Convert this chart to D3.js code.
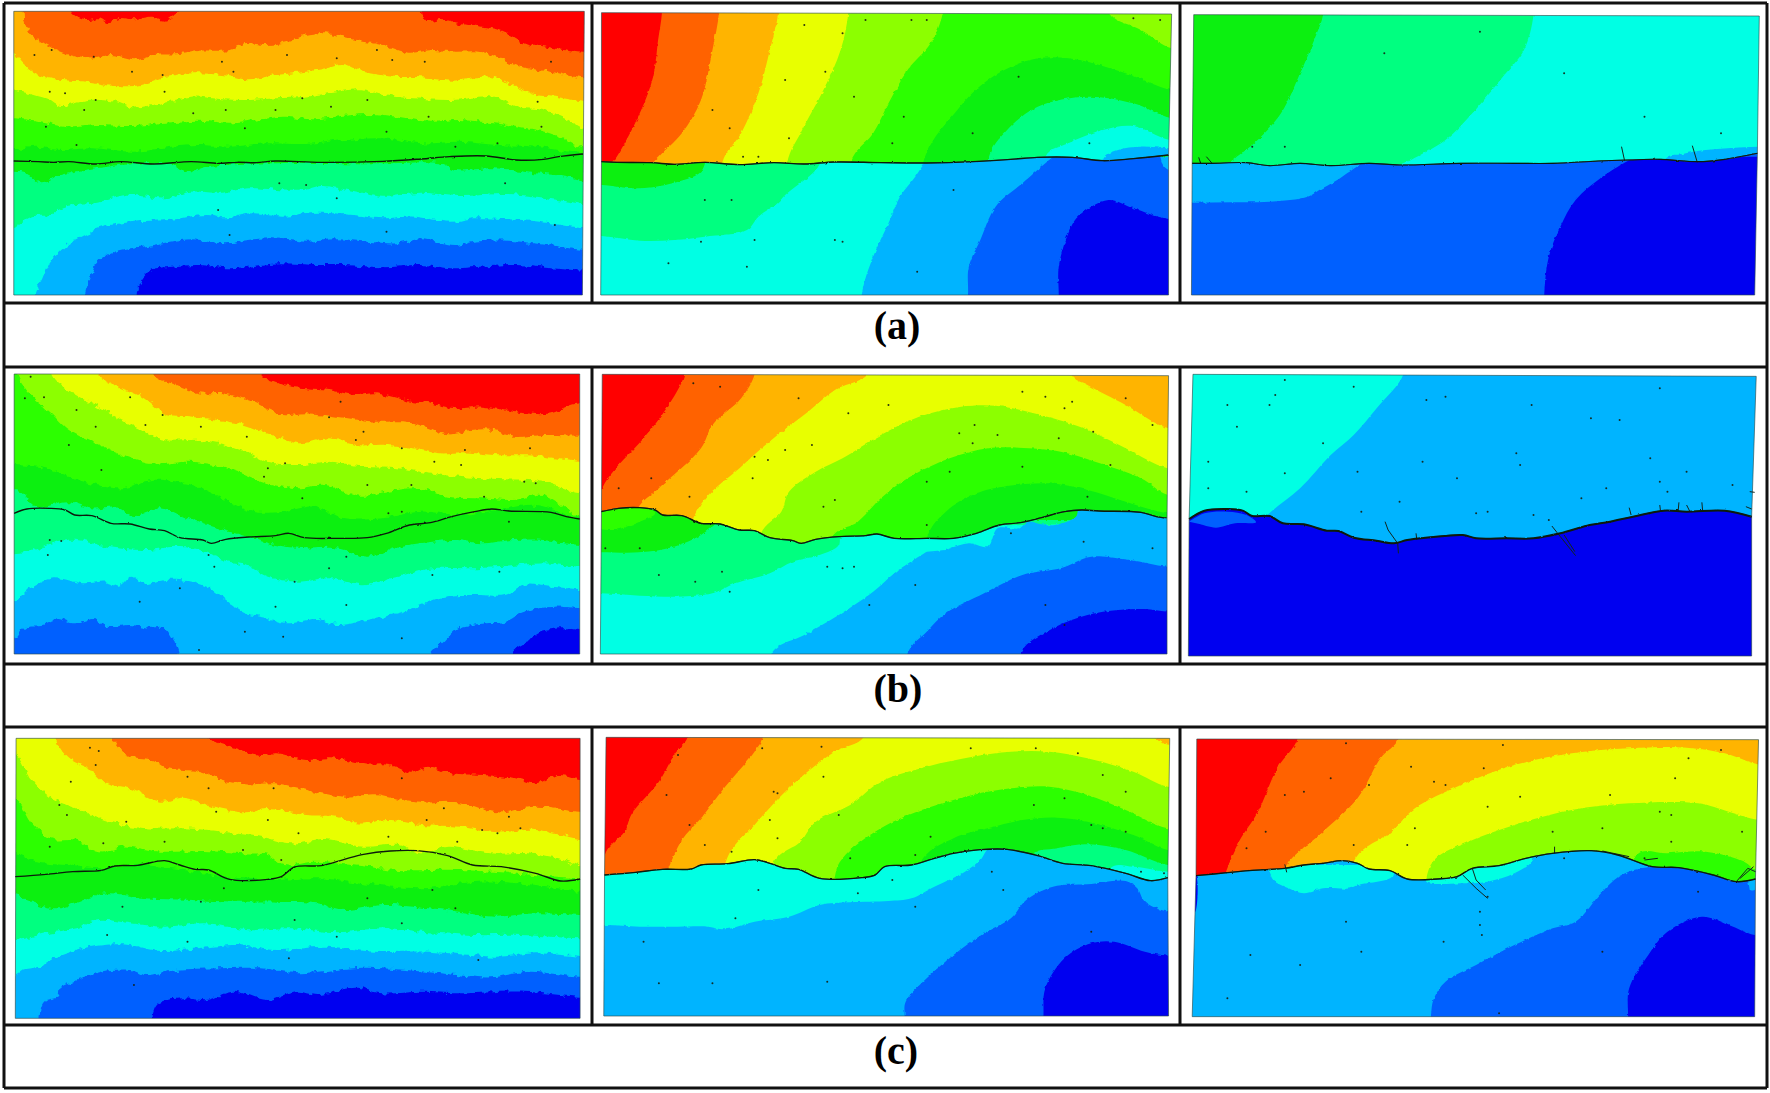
<!DOCTYPE html>
<html><head><meta charset="utf-8">
<script src="https://cdnjs.cloudflare.com/ajax/libs/d3/7.8.5/d3.min.js"></script>
<style>html,body{margin:0;padding:0;background:#fff}svg{display:block}</style>
</head><body><svg id="c" width="1770" height="1093"></svg>
<script>
const palette=['#ff0000','#ff6200','#ffb400','#e8ff00','#8cff00','#2cff00','#0cf010','#00ff80','#00ffe4','#00b4ff','#0060ff','#0000f0'];
const captions=['(a)','(b)','(c)'];

// closures: the helper only extends a read boundary beyond the clip.
const L=-50,R=1620,T=-50,B=1160;
const flat=a=>d3.range(0,a.length,2).map(i=>[a[i],a[i+1]]);
const down=(c,a)=>[c,[L,a[1],...a,R,a[a.length-1],R,B,L,B]];
const fromTop=(c,a)=>[c,[L,T,a[0],T,...a,R,a[a.length-1],R,B,L,B]];
const arc=(c,a)=>[c,[a[0],B,...a,R,a[a.length-1],R,B]];
const right=(c,a)=>[c,[a[0],T,...a,a[a.length-2],B,R,B,R,T]];
const poly=(c,a)=>[c,a];

// ---------- a1
const a1Shape=[36,34,1527,34,1522,885,36,885];
const a1Crack=[36,483,100,485,140,487,180,485,250,492,315,485,400,492,500,485,570,490,620,487,670,488,720,483,840,487,1000,484,1100,477,1175,470,1270,468,1350,480,1420,478,1460,470,1522,462];
const a1Bands=[
 poly(1,[L,T,R,T,R,B,L,B]),
 poly(0,[185,T,185,34,200,50,225,60,260,55,285,70,310,55,350,58,395,50,430,62,450,50,465,34,465,T]),
 poly(0,[1100,T,1100,34,1115,65,1150,60,1200,72,1250,78,1300,88,1340,110,1380,135,1420,138,1470,150,1527,158,R,158,R,T]),
 fromTop(2,[62,34,65,70,80,100,110,125,150,150,200,170,245,175,290,165,355,178,400,165,470,162,520,152,600,150,640,130,700,135,760,122,800,105,850,100,900,112,950,125,1000,135,1070,158,1130,150,1190,155,1250,155,1300,170,1330,190,1380,205,1440,215,1527,235]),
 down(3,[36,160,60,190,100,225,160,240,230,245,300,258,370,255,420,235,500,220,580,225,650,238,720,225,800,215,850,205,895,192,950,215,1030,230,1100,232,1180,242,1290,230,1340,255,1400,285,1450,290,1527,305]),
 down(4,[36,272,90,285,130,300,160,318,230,300,300,305,350,322,420,310,500,290,580,298,650,300,720,295,800,290,860,280,940,268,1000,285,1080,295,1180,300,1290,290,1350,320,1420,330,1480,355,1527,385]),
 down(5,[36,355,100,365,180,382,250,375,350,378,430,368,520,362,600,368,680,358,740,350,820,358,880,350,960,342,1040,350,1120,365,1200,360,1290,370,1380,385,1450,405,1527,445]),
 down(6,[36,450,90,440,160,450,240,445,350,455,450,440,520,435,600,440,700,430,800,432,900,420,1000,415,1100,430,1200,425,1300,435,1400,440,1527,460]),
 down(7,[36,515,70,520,110,550,160,525,280,500,400,490,450,495,490,518,540,500,700,490,1000,490,1150,490,1190,510,1290,505,1400,520,1480,530,1527,545]),
 down(8,[36,680,80,650,130,645,170,620,250,610,330,585,430,595,500,575,580,578,650,565,780,572,840,558,920,572,1000,590,1100,578,1200,588,1330,582,1430,595,1527,612]),
 arc(9,[90,885,110,840,130,790,170,740,220,705,270,680,350,665,440,660,540,645,590,655,660,640,740,650,830,638,920,645,1000,655,1080,650,1180,665,1240,655,1330,658,1430,668,1527,685]),
 arc(10,[222,885,235,840,255,785,300,755,400,735,500,718,590,730,650,720,710,715,800,725,880,718,960,725,1040,730,1100,718,1190,738,1240,725,1330,722,1430,735,1527,750]),
 arc(11,[357,885,365,850,395,810,450,800,520,795,600,805,730,790,820,795,900,795,1000,802,1100,795,1180,805,1250,800,1350,795,1440,805,1527,812])
];
const a1Dots=[90,165,135,150,245,170,345,215,425,225,580,185,610,215,750,165,880,175,985,150,1025,180,1110,185,220,330,130,275,170,280,250,300,430,275,505,340,590,330,720,330,865,320,960,300,1120,350,1300,430,1415,380,1405,305,1440,185,790,295,640,385,200,435,120,380,1010,395,1190,440,800,555,880,595,600,705,1010,695,1450,675,570,630,730,550,1320,550];

// ---------- a2
const a2Top=[30,38,1520,42],a2Bottom=[1512,885,28,885];
const a2Crack=[30,485,70,487,160,488,220,493,300,487,390,494,480,488,560,492,640,486,760,488,880,489,1000,485,1100,478,1170,472,1260,472,1340,482,1420,476,1512,465];
const a2Upper=[
 poly(0,[L,T,R,T,R,B,L,B]),
 right(1,[188,38,178,120,165,230,130,340,70,470,50,500]),
 right(2,[337,38,320,150,290,300,240,400,180,470,160,500]),
 right(3,[492,38,470,150,440,280,395,400,345,490]),
 right(4,[675,38,655,150,610,270,550,400,515,490]),
 right(5,[922,38,890,130,830,210,780,310,740,400,680,490]),
 poly(4,[1360,T,1360,42,1440,90,1520,145,R,145,R,T]),
 arc(6,[870,490,960,330,1040,240,1150,180,1250,175,1400,220,1520,270]),
 arc(7,[1040,480,1090,390,1170,320,1300,290,1420,310,1520,355]),
 arc(8,[1190,470,1250,430,1340,390,1420,378,1515,420]),
 arc(9,[1340,480,1380,450,1440,440,1512,445])
];
const a2Lower=[
 poly(6,[L,T,R,T,R,B,L,B]),
 poly(7,[305,470,290,515,230,545,130,565,30,555,L,555,L,B,R,B,R,470]),
 poly(8,[610,470,590,510,510,585,490,610,440,650,410,690,300,710,220,720,130,722,30,708,L,708,L,B,R,B,R,470]),
 poly(9,[885,470,850,530,810,590,780,670,740,770,710,885,700,B,R,B,R,470]),
 poly(10,[1215,465,1190,490,1130,550,1060,620,1020,720,990,800,988,885,980,B,R,B,R,520,1512,510,1495,490,1490,465]),
 poly(11,[1225,B,1225,885,1225,800,1250,700,1275,650,1355,600,1420,625,1512,657,R,657,R,B])
];
const a2Dots=[560,75,660,100,720,60,840,60,880,60,1420,55,1490,60,510,240,615,215,690,290,520,415,440,470,400,470,320,330,365,385,820,350,790,430,1120,230,1305,430,1000,400,300,600,370,600,640,720,660,725,430,720,290,725,205,790,855,815,950,570,410,800];

// ---------- a3
const a3Top=[62,44,1540,48],a3Bottom=[1528,885,56,885];
const a3Crack=[58,490,110,490,200,488,260,497,340,490,420,497,520,490,600,495,760,490,900,490,1000,490,1120,483,1200,480,1280,478,1380,485,1450,478,1535,460];
const a3Upper=[
 poly(6,[L,T,R,T,R,B,L,B]),
 right(7,[400,44,380,110,340,220,290,340,220,430,170,475,150,500]),
 right(8,[950,44,925,150,870,230,790,340,720,420,630,480,600,500]),
 arc(9,[1290,480,1340,462,1400,450,1535,440])
];
const a3Lower=[
 poly(10,[L,T,R,T,R,B,L,B]),
 poly(9,[L,470,510,470,450,530,390,570,360,590,260,605,160,607,56,608,L,608]),
 poly(11,[1215,470,1130,530,1060,600,1020,680,990,770,978,885,978,B,R,B,R,470])
];
const a3Dots=[215,440,810,95,1030,220,1240,350,560,160,300,440,1440,400];
const a3Twigs=[[1180,440,1188,482],[1365,437,1378,487],[75,472,80,490],[95,470,110,490]];

// ---------- b1
const b1Shape=[37,27,1515,27,1515,867,37,867];
const b1Crack=[37,445,70,432,130,430,170,435,195,450,240,452,290,475,340,477,390,492,430,497,470,518,530,525,552,535,590,523,650,516,720,512,755,505,795,518,880,520,960,518,1010,505,1070,480,1125,473,1180,455,1240,440,1285,432,1330,438,1440,442,1480,455,1515,462];
const b1Bands=[
 poly(0,[L,T,R,T,R,B,L,B]),
 fromTop(1,[680,27,740,60,800,70,860,75,930,90,980,85,1060,105,1120,115,1190,130,1260,125,1370,145,1440,145,1480,125,1515,115]),
 fromTop(2,[400,27,460,60,520,85,580,85,660,110,740,150,800,145,880,155,980,170,1060,170,1110,185,1170,208,1230,195,1290,195,1340,215,1420,210,1515,212]),
 fromTop(3,[255,27,310,65,370,95,430,145,500,155,570,165,640,180,700,205,780,235,860,220,930,240,1010,240,1080,250,1150,265,1210,262,1290,270,1400,272,1515,290]),
 fromTop(4,[135,27,180,75,240,115,310,160,370,195,430,225,520,225,590,240,650,265,700,290,780,300,860,290,950,305,1040,310,1120,325,1200,335,1300,342,1420,350,1515,385]),
 fromTop(5,[45,27,80,90,130,140,180,195,260,240,340,280,400,298,490,290,560,300,620,320,700,355,780,370,850,360,940,395,1010,380,1090,370,1170,395,1260,400,1340,405,1420,390,1515,455]),
 down(6,[37,300,120,310,220,350,320,370,400,345,500,360,580,400,660,440,740,440,820,425,900,460,1000,460,1100,440,1200,450,1300,435,1400,420,1515,460]),
 down(7,[37,375,60,385,90,425,180,412,240,430,300,425,350,450,420,430,480,455,540,480,600,500,660,520,720,540,800,550,880,550,960,575,1040,545,1130,530,1190,525,1260,535,1340,525,1420,525,1515,540]),
 down(8,[37,565,90,555,150,530,200,525,280,545,380,555,460,545,540,560,580,585,640,600,700,635,780,650,860,640,950,658,1040,635,1130,610,1220,610,1320,605,1420,595,1515,605]),
 down(9,[37,710,80,670,140,640,220,655,280,650,310,665,345,635,380,660,430,645,490,648,540,665,590,705,640,745,700,760,750,775,830,762,880,780,960,765,1040,745,1090,725,1160,695,1250,690,1320,690,1370,660,1440,665,1515,672]),
 poly(10,[L,820,37,820,65,785,110,780,155,762,190,775,245,762,280,785,340,780,400,790,430,790,450,820,470,867,470,B,L,B]),
 arc(10,[1125,867,1160,830,1200,790,1270,775,1320,770,1370,740,1450,725,1515,730]),
 arc(11,[1340,867,1380,830,1410,800,1480,790,1515,795])
];
const b1Dots=[80,35,65,100,115,97,200,135,250,185,340,97,380,180,425,150,525,185,645,215,700,310,745,295,690,335,860,157,890,110,950,200,930,225,1050,250,1215,255,1205,300,1135,290,1385,250,1370,350,1400,355,1265,395,960,360,1075,360,790,400,1015,445,1050,440,265,315,180,240,130,525,160,528,125,570,545,570,560,605,905,575,860,610,905,720,770,650,720,725,640,800,740,815,1050,820,520,855,365,710,470,670,1305,620,1130,630,1330,470];

// ---------- b2
const b2Top=[32,28,1512,32],b2Bottom=[1508,867,27,867];
const b2Crack=[30,440,75,430,130,428,170,435,190,450,240,452,290,475,340,477,390,495,430,497,470,518,530,527,552,535,590,523,650,515,720,512,750,507,795,520,880,520,950,520,1010,505,1070,480,1125,473,1180,458,1240,440,1285,435,1330,438,1440,442,1480,455,1508,460];
const b2Upper=[
 poly(0,[L,T,R,T,R,B,L,B]),
 right(1,[247,28,200,130,140,220,60,320,32,370,20,440,20,560]),
 right(2,[430,28,395,100,320,180,290,250,180,370,125,430,100,560]),
 poly(3,[725,T,725,28,640,75,570,140,490,210,400,300,270,460,250,B,R,B,R,190,1512,190,1400,120,1300,60,1260,32,1260,T]),
 arc(4,[445,510,500,440,520,380,590,320,660,280,760,210,860,155,970,125,1060,122,1160,145,1290,190,1400,250,1510,310]),
 arc(5,[630,520,700,470,760,400,830,340,940,280,1040,250,1120,248,1230,260,1320,290,1440,340,1510,390]),
 arc(6,[880,520,930,440,1010,385,1080,365,1200,355,1300,375,1400,410,1510,445])
];
const b2Lower=[
 poly(6,[L,T,R,T,R,B,L,B]),
 poly(5,[32,430,75,425,130,425,170,445,130,470,60,495,20,490]),
 poly(7,[340,465,290,510,220,545,130,562,30,562,L,562,L,B,R,B,R,465]),
 poly(8,[650,490,650,540,600,570,530,590,470,625,380,655,320,685,230,695,130,692,30,685,L,685,L,B,R,B,R,470]),
 poly(9,[880,560,800,620,740,680,650,750,560,810,475,865,475,B,R,B,R,430,1280,430,1270,455,1215,480,1180,478,1145,470,1120,490,1065,490,1040,545,990,535,930,555]),
 arc(10,[830,865,880,800,930,745,1030,685,1130,630,1230,610,1310,575,1410,585,1510,605]),
 arc(11,[1125,865,1210,790,1300,750,1380,735,1450,732,1510,740])
];
const b2Dots=[270,55,340,65,545,100,675,145,780,120,1000,235,1065,210,1130,80,1190,95,1240,130,1260,110,1400,100,1470,180,1315,200,1225,220,965,205,580,240,465,285,430,275,425,340,640,405,610,425,510,255,260,395,160,340,75,370,1005,180,1360,300,1130,305,940,320,880,350,1300,395,880,480,660,610,690,605,620,605,365,680,345,620,275,650,180,630,130,550,40,550,850,660,730,720,1290,530,1470,550,1100,505,1190,720,1240,780];

// ---------- b3
const b3Top=[60,28,1532,34],b3Bottom=[1520,873,48,873];
const b3Crack=[50,462,90,437,150,432,190,437,215,453,260,453,295,475,350,478,410,497,440,498,480,518,540,527,585,535,620,525,680,517,765,510,800,520,880,520,950,520,1020,505,1090,482,1150,470,1210,455,1290,437,1350,440,1450,437,1520,455];
const b3Upper=[
 poly(9,[L,T,R,T,R,B,L,B]),
 poly(8,[L,T,610,T,610,28,540,130,480,210,420,270,340,370,255,450,220,500,L,500])
];
const b3Lower=[
 poly(11,[L,T,R,T,R,B,L,B]),
 poly(10,[50,470,90,445,150,440,200,450,225,472,170,475,120,488,80,478])
];
const b3Dots=[150,120,275,90,300,45,480,65,260,120,175,185,400,235,300,325,200,380,100,290,100,370,670,105,720,95,945,120,1100,160,1175,165,1280,70,905,265,915,300,1255,280,660,290,490,320,750,340,1075,400,1280,350,1300,380,1140,370,830,440,800,445,950,450,990,465,500,440,600,410,1470,360,1350,320];
const b3Twigs=[[562,470,570,495,595,535,597,565],[643,505,645,525],[998,483,1020,515,1060,572],[1030,510,1058,560],[1200,428,1205,450],[1280,420,1282,440],[1330,412,1328,438],[1350,420,1358,438],[1390,412,1392,438],[1515,380,1528,382],[1505,425,1520,432]];

// ---------- c1
const c1Shape=[42,40,1516,40,1516,880,40,880];
const c1Crack=[40,455,120,448,190,440,265,436,300,423,360,421,430,407,470,420,510,433,545,435,600,463,700,463,735,455,770,426,840,422,900,403,950,388,1020,378,1090,377,1170,392,1235,420,1310,425,1400,445,1465,468,1516,462];
const c1Bands=[
 poly(0,[L,T,R,T,R,B,L,B]),
 fromTop(1,[545,40,590,60,680,90,720,85,800,105,860,100,950,118,1020,120,1075,143,1120,125,1180,145,1260,150,1340,158,1400,175,1460,150,1516,162]),
 fromTop(2,[295,40,330,90,400,105,440,130,520,140,580,165,640,178,720,175,800,195,900,215,985,208,1080,232,1200,232,1300,262,1400,245,1516,260]),
 fromTop(3,[145,40,180,100,240,135,280,175,340,190,420,230,480,218,560,245,640,262,700,252,800,270,880,275,930,295,1020,285,1100,300,1200,305,1300,322,1400,315,1516,342]),
 down(4,[42,90,80,160,130,215,200,250,290,290,380,310,480,310,580,320,680,335,760,355,850,345,950,365,1040,360,1100,385,1170,365,1280,385,1380,385,1460,400,1516,420]),
 down(5,[42,225,80,290,130,340,200,345,260,385,320,365,420,380,530,378,640,385,700,390,740,420,820,410,920,420,1040,435,1200,435,1400,450,1516,460]),
 down(6,[42,385,90,410,170,420,260,430,350,420,450,430,560,450,700,465,830,460,950,475,1100,490,1250,470,1400,480,1516,500]),
 down(7,[42,505,80,530,150,550,210,530,280,505,380,520,500,525,620,530,730,530,830,535,900,555,1000,540,1120,550,1200,560,1290,575,1400,565,1516,570]),
 down(8,[42,645,120,625,200,610,260,585,340,595,430,605,540,595,640,615,760,610,880,622,1000,610,1120,622,1240,630,1360,630,1516,640]),
 down(9,[42,750,60,735,100,725,150,695,240,665,320,658,420,678,530,668,620,660,720,675,850,665,980,680,1120,680,1230,690,1300,695,1400,685,1516,695]),
 arc(10,[103,880,115,830,150,815,160,785,220,760,265,740,340,735,380,750,460,735,570,730,680,730,780,745,850,738,950,728,1060,735,1150,745,1280,757,1380,740,1516,755]),
 arc(11,[397,880,415,835,480,820,540,825,610,800,700,825,770,800,830,810,930,788,1000,805,1100,800,1200,805,1370,800,1516,815])
];
const c1Dots=[235,68,258,78,250,120,185,170,490,155,545,190,715,190,780,325,1050,160,1115,285,1160,250,1260,315,1300,325,1360,310,1330,275,1195,350,1015,335,700,285,565,260,330,290,270,355,175,270,130,365,155,240,430,350,635,375,735,405,1130,495,960,520,525,530,320,545,280,630,585,490,1050,595,880,635,770,585,1190,550,350,780,490,650,755,700,1250,705];

// ---------- c2
const c2Top=[42,37,1515,40],c2Bottom=[1512,873,36,873];
const c2Crack=[38,450,120,442,190,433,265,432,290,420,360,416,430,404,470,415,510,430,545,433,600,460,710,458,745,450,770,425,840,420,900,400,950,385,1020,374,1090,373,1170,392,1235,415,1310,422,1400,445,1465,467,1510,458];
const c2Upper=[
 poly(0,[L,T,R,T,R,B,L,B]),
 right(1,[255,37,220,90,180,170,110,265,90,320,42,380,30,500]),
 right(2,[452,37,430,80,350,190,290,280,240,345,205,430,180,500]),
 poly(3,[715,T,715,37,640,80,580,130,510,200,430,300,355,410,340,B,R,B,R,60,1515,60,1480,40,1480,T]),
 arc(4,[480,415,550,350,590,290,680,240,760,170,880,125,1000,95,1100,80,1200,80,1300,100,1420,140,1510,185]),
 arc(5,[640,455,660,400,760,310,880,250,1000,210,1100,190,1200,185,1300,210,1400,255,1510,310]),
 arc(6,[860,420,950,340,1040,310,1130,285,1220,278,1300,290,1420,330,1510,375]),
 arc(7,[1150,395,1220,370,1300,358,1400,375,1510,420]),
 arc(8,[1360,430,1420,425,1510,440])
];
const c2Lower=[
 poly(8,[L,T,R,T,R,B,L,B]),
 poly(9,[L,600,40,600,130,605,230,605,310,605,350,613,430,590,520,575,600,540,680,532,780,528,840,520,900,485,980,440,1020,405,1050,365,R,365,R,B,L,B]),
 arc(10,[822,873,825,830,880,760,950,690,1030,625,1100,580,1140,525,1210,485,1300,478,1400,468,1430,490,1450,530,1512,560]),
 arc(11,[1185,873,1190,790,1240,700,1310,655,1370,650,1450,680,1512,692])
];
const c2Dots=[450,70,605,65,995,70,1165,70,1275,85,1340,150,1400,200,610,155,480,200,490,205,470,285,490,340,370,380,300,360,260,300,200,210,230,90,650,270,680,400,850,390,890,335,1160,240,1240,220,1310,300,1340,310,1400,320,1050,440,1080,495,1440,440,1500,445,790,465,700,505,440,495,380,580,620,770,850,545,1310,620,140,650,180,775,320,775];

// ---------- c3
const c3Top=[70,42,1538,44],c3Bottom=[1528,875,58,875];
const c3Crack=[68,452,150,443,215,436,300,430,350,420,400,415,450,407,490,415,520,432,575,437,620,462,700,462,750,455,790,430,860,422,930,400,1000,385,1100,377,1170,390,1260,425,1330,428,1420,450,1480,470,1530,462];
const c3Upper=[
 poly(0,[L,T,R,T,R,B,L,B]),
 right(1,[333,42,280,130,230,260,180,350,145,445,130,500]),
 right(2,[597,42,550,100,490,220,400,320,305,420,290,500]),
 arc(3,[480,410,580,320,640,250,760,180,900,120,1050,85,1200,70,1350,68,1450,85,1538,118]),
 arc(4,[670,460,695,400,780,350,900,300,1050,255,1200,235,1380,235,1460,260,1538,285]),
 arc(5,[1220,390,1300,385,1400,380,1500,410,1538,440])
];
const c3Lower=[
 poly(9,[L,T,R,T,R,B,L,B]),
 poly(8,[255,420,270,465,310,490,350,505,400,490,470,490,490,480,580,455,580,420]),
 poly(8,[670,440,670,470,760,475,830,470,900,445,945,410,945,380]),
 poly(10,[682,B,682,875,690,820,720,770,800,720,900,660,1000,610,1060,590,1130,500,1180,450,1260,425,R,440,R,B]),
 poly(9,[1510,460,1528,460,1528,495,1515,495]),
 arc(11,[1197,875,1200,790,1250,690,1300,620,1390,575,1460,600,1528,630]),
 poly(11,[58,452,68,452,66,560,60,560])
];
const c3Dots=[460,55,820,130,870,60,1440,75,1355,100,1320,160,1150,210,915,215,830,245,630,125,690,170,720,180,520,180,350,200,250,320,200,370,420,160,300,210,640,310,620,360,480,360,1000,320,1130,310,1280,260,1310,270,1495,320,1310,350,1240,400,810,560,810,600,815,630,830,515,460,590,210,690,340,720,500,680,715,650,1030,400,1130,680,1380,500,860,865,150,820];
const c3Twigs=[[300,418,305,442],[765,450,800,490,830,520],[790,430,800,465,825,495],[1005,365,1005,385],[1240,405,1275,400],[1480,470,1510,430,1530,440],[1490,460,1525,425],[1130,378,1200,395]];

const panels=[
 {id:'a1',ox:0,oy:0,shape:a1Shape,bands:a1Bands,crack:a1Crack,dots:a1Dots,amp:7},
 {id:'a2',ox:590,oy:0,top:a2Top,bottom:a2Bottom,upper:a2Upper,lower:a2Lower,crack:a2Crack,dots:a2Dots,amp:3},
 {id:'a3',ox:1170,oy:0,top:a3Top,bottom:a3Bottom,upper:a3Upper,lower:a3Lower,crack:a3Crack,dots:a3Dots,twigs:a3Twigs,amp:3,cw:1.1},
 {id:'b1',ox:0,oy:365,shape:b1Shape,bands:b1Bands,crack:b1Crack,dots:b1Dots,amp:7},
 {id:'b2',ox:590,oy:365,top:b2Top,bottom:b2Bottom,upper:b2Upper,lower:b2Lower,crack:b2Crack,dots:b2Dots,amp:3},
 {id:'b3',ox:1170,oy:365,top:b3Top,bottom:b3Bottom,upper:b3Upper,lower:b3Lower,crack:b3Crack,dots:b3Dots,twigs:b3Twigs,amp:2,cw:2},
 {id:'c1',ox:0,oy:725,shape:c1Shape,bands:c1Bands,crack:c1Crack,dots:c1Dots,amp:7},
 {id:'c2',ox:590,oy:725,top:c2Top,bottom:c2Bottom,upper:c2Upper,lower:c2Lower,crack:c2Crack,dots:c2Dots,amp:3},
 {id:'c3',ox:1170,oy:725,top:c3Top,bottom:c3Bottom,upper:c3Upper,lower:c3Lower,crack:c3Crack,dots:c3Dots,twigs:c3Twigs,amp:3}
];

// frame of the table (full-picture pixels)
const rowLines=[3,303,367,664,727,1025,1088];
const colLines=[592,1180];
const rowSpans=[[3,303],[367,664],[727,1025]];
const frameX=[4,1767];
const captionX=[897,898,896];
const captionY=[339,702,1064];

const svg=d3.select('#c');
const defs=svg.append('defs');
[['rough7',0.16,7],['rough3',0.22,3],['rough2',0.25,2]].forEach(([id,f,s])=>{
 const fl=defs.append('filter').attr('id',id).attr('filterUnits','userSpaceOnUse')
   .attr('x',0).attr('y',0).attr('width',1770).attr('height',1093).attr('color-interpolation-filters','sRGB');
 fl.append('feTurbulence').attr('type','fractalNoise').attr('baseFrequency',f).attr('numOctaves',2).attr('seed',4).attr('result','n');
 fl.append('feDisplacementMap').attr('in','SourceGraphic').attr('in2','n').attr('scale',s).attr('xChannelSelector','R').attr('yChannelSelector','G');
});

panels.forEach(p=>{
 const x=d3.scaleLinear([0,1568],[p.ox,p.ox+600]);
 const y=d3.scaleLinear([0,1110],[p.oy,p.oy+370]);
 const line=d3.line().x(d=>x(d[0])).y(d=>y(d[1]));
 const smooth=d3.line().x(d=>x(d[0])).y(d=>y(d[1])).curve(d3.curveCatmullRom.alpha(0.5));
 const straight=a=>flat(a).map(d=>`L${x(d[0])},${y(d[1])}`).join('');
 const g=svg.append('g').attr('id',p.id);
 const region=(name,outlineD,layers)=>{
   defs.append('clipPath').attr('id',p.id+name).append('path').attr('d',outlineD);
   const rg=g.append('g').attr('clip-path',`url(#${p.id+name})`).append('g').attr('filter',`url(#rough${p.amp})`);
   rg.selectAll('path').data(layers).join('path').attr('d',d=>smooth(flat(d[1]))+'Z').attr('fill',d=>palette[d[0]]);
   g.append('path').attr('d',outlineD).attr('fill','none').attr('stroke','#2a4a4a').attr('stroke-width',0.9).attr('stroke-opacity',0.7);
 };
 if(p.shape){ region('u',line(flat(p.shape))+'Z',p.bands); }
 else{
   const cr=flat(p.crack);
   region('u',smooth(cr.slice().reverse())+straight(p.top)+'Z',p.upper);
   region('l',smooth(cr)+straight(p.bottom)+'Z',p.lower);
 }
 g.append('g').selectAll('circle').data(flat(p.dots)).join('circle')
   .attr('cx',d=>x(d[0])).attr('cy',d=>y(d[1])).attr('r',1).attr('fill','#151f10').attr('fill-opacity',0.9);
 (p.twigs||[]).forEach(t=>g.append('path').attr('d',line(flat(t))).attr('fill','none').attr('stroke','#12261e').attr('stroke-width',1));
 g.append('path').attr('d',smooth(flat(p.crack))).attr('fill','none').attr('stroke','#0c1a0c').attr('stroke-width',p.cw||1.4).attr('stroke-linejoin','round').attr('filter','url(#rough2)');
});

const frame=svg.append('g').attr('stroke','#111').attr('stroke-width',3);
frame.selectAll('.r').data(rowLines).join('line').attr('class','r')
 .attr('x1',frameX[0]).attr('x2',frameX[1]).attr('y1',d=>d).attr('y2',d=>d);
frame.selectAll('.e').data(frameX).join('line').attr('class','e')
 .attr('x1',d=>d).attr('x2',d=>d).attr('y1',rowLines[0]).attr('y2',rowLines[6]);
rowSpans.forEach(s=>colLines.forEach(cx=>frame.append('line').attr('x1',cx).attr('x2',cx).attr('y1',s[0]).attr('y2',s[1])));

svg.selectAll('.cap').data(captions).join('text').attr('class','cap')
 .attr('x',(d,i)=>captionX[i]).attr('y',(d,i)=>captionY[i]).attr('text-anchor','middle')
 .attr('font-family','"Liberation Serif",serif').attr('font-weight','bold').attr('font-size',40).attr('fill','#000').text(d=>d);
</script></body></html>
